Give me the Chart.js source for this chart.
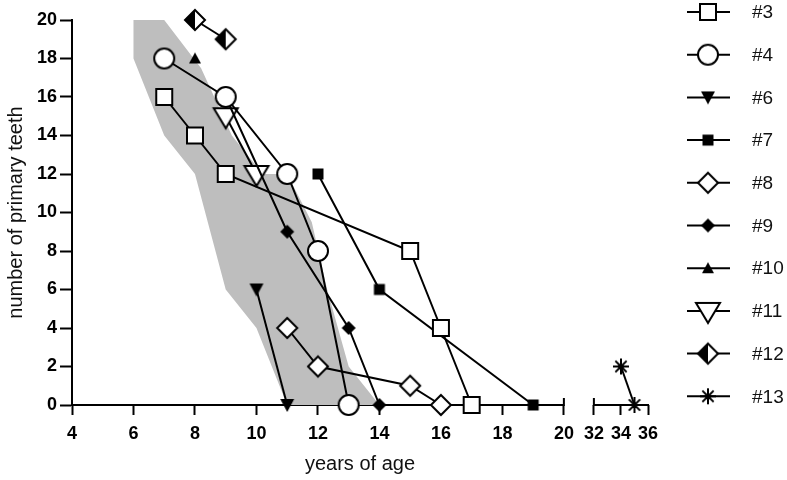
<!DOCTYPE html>
<html lang="en">
<head>
<meta charset="UTF-8">
<title>Primary teeth by age</title>
<script src="https://cdn.jsdelivr.net/npm/chart.js@4.4.0/dist/chart.umd.min.js"></script>
<style>
  html, body { margin: 0; padding: 0; background: #fff; }
  #wrap { width: 787px; height: 480px; }
</style>
</head>
<body>
<div id="wrap"><canvas id="teethChart"></canvas></div>
<script>
// values: age in years / number of primary teeth
const seriesNames = ['#3', '#4', '#6', '#7', '#8', '#9', '#10', '#11', '#12', '#13'];
const ages3 = [7, 8, 9, 15, 16, 17];
const teeth3 = [16, 14, 12, 8, 4, 0];
const ages4 = [7, 9, 11, 12, 13];
const teeth4 = [18, 16, 12, 8, 0];
const ages6 = [10, 11];
const teeth6 = [6, 0];
const ages7 = [12, 14, 19];
const teeth7 = [12, 6, 0];
const ages8 = [11, 12, 15, 16];
const teeth8 = [4, 2, 1, 0];
const ages9 = [9, 11, 13, 14];
const teeth9 = [16, 9, 4, 0];
const ages10 = [8];
const teeth10 = [18];
const ages11 = [9, 10];
const teeth11 = [15, 12];
const ages12 = [8, 9];
const teeth12 = [20, 19];
const ages13 = [34, 35];
const teeth13 = [2, 0];

// grey reference band (outline, left edge down then right edge up)
const bandAges = [6, 6, 7, 8, 9, 10, 11, 14, 13, 12.3, 11.8, 11, 10.2, 9.2, 8.2, 7];
const bandTeeth = [20, 18, 14, 12, 6, 4, 0, 0, 2, 6, 9.5, 12, 12, 14, 17.5, 20];

const xTickLabels = [4, 6, 8, 10, 12, 14, 16, 18, 20, 32, 34, 36];
const yTickLabels = [0, 2, 4, 6, 8, 10, 12, 14, 16, 18, 20];

const allAges = [ages3, ages4, ages6, ages7, ages8, ages9, ages10, ages11, ages12, ages13];
const allTeeth = [teeth3, teeth4, teeth6, teeth7, teeth8, teeth9, teeth10, teeth11, teeth12, teeth13];
const markerKinds = ['square', 'circle', 'triDownFill', 'squareFill', 'diamond', 'diamondFill', 'triFill', 'triDown', 'diamondHalf', 'star'];

// broken x axis: 4..20 at normal scale, then a small gap, then 32..36 compressed
function axisPos(age) {
    if (age <= 20) return age
    return 20 + 0.976 + (age - 32) * 0.44
}

function drawMarker(ctx, kind, cx, cy) {
    ctx.lineWidth = 2
    ctx.strokeStyle = '#000'
    ctx.fillStyle = '#000'
    ctx.beginPath()
    if (kind == 'square') {
        ctx.fillStyle = '#fff'
        ctx.rect(cx - 8, cy - 8, 16, 16)
        ctx.fill(); ctx.stroke()
    } else if (kind == 'circle') {
        ctx.fillStyle = '#fff'
        ctx.arc(cx, cy, 10, 0, Math.PI * 2)
        ctx.fill(); ctx.stroke()
    } else if (kind == 'triDownFill') {
        ctx.moveTo(cx - 7, cy - 6); ctx.lineTo(cx + 7, cy - 6); ctx.lineTo(cx, cy + 7)
        ctx.closePath(); ctx.fill()
    } else if (kind == 'squareFill') {
        ctx.rect(cx - 5.5, cy - 5.5, 11, 11)
        ctx.fill()
    } else if (kind == 'diamond') {
        ctx.fillStyle = '#fff'
        ctx.moveTo(cx, cy - 10); ctx.lineTo(cx + 10, cy); ctx.lineTo(cx, cy + 10); ctx.lineTo(cx - 10, cy)
        ctx.closePath(); ctx.fill(); ctx.stroke()
    } else if (kind == 'diamondFill') {
        ctx.moveTo(cx, cy - 7); ctx.lineTo(cx + 7, cy); ctx.lineTo(cx, cy + 7); ctx.lineTo(cx - 7, cy)
        ctx.closePath(); ctx.fill()
    } else if (kind == 'triFill') {
        ctx.moveTo(cx - 6, cy + 5); ctx.lineTo(cx + 6, cy + 5); ctx.lineTo(cx, cy - 6)
        ctx.closePath(); ctx.fill()
    } else if (kind == 'triDown') {
        ctx.fillStyle = '#fff'
        ctx.moveTo(cx - 12, cy - 8); ctx.lineTo(cx + 12, cy - 8); ctx.lineTo(cx, cy + 12)
        ctx.closePath(); ctx.fill(); ctx.stroke()
    } else if (kind == 'diamondHalf') {
        ctx.fillStyle = '#fff'
        ctx.moveTo(cx, cy - 10); ctx.lineTo(cx + 10, cy); ctx.lineTo(cx, cy + 10); ctx.lineTo(cx - 10, cy)
        ctx.closePath(); ctx.fill()
        ctx.beginPath()
        ctx.fillStyle = '#000'
        ctx.moveTo(cx, cy - 10); ctx.lineTo(cx, cy + 10); ctx.lineTo(cx - 10, cy)
        ctx.closePath(); ctx.fill()
        ctx.beginPath()
        ctx.moveTo(cx, cy - 10); ctx.lineTo(cx + 10, cy); ctx.lineTo(cx, cy + 10); ctx.lineTo(cx - 10, cy)
        ctx.closePath(); ctx.stroke()
    } else if (kind == 'star') {
        for (let k = 0; k < 8; k++) {
            let a = k * Math.PI / 4
            ctx.moveTo(cx, cy)
            ctx.lineTo(cx + Math.cos(a) * 8, cy + Math.sin(a) * 8)
        }
        ctx.stroke()
    }
}

function markerCanvas(kind) {
    let c = document.createElement('canvas')
    c.width = 32
    c.height = 32
    drawMarker(c.getContext('2d'), kind, 16, 16)
    return c
}

const markerImages = markerKinds.map(markerCanvas)

const datasets = seriesNames.map((name, i) => ({
    label: name,
    data: allAges[i].map((a, j) => ({ x: axisPos(a), y: allTeeth[i][j] })),
    showLine: true,
    borderColor: '#000',
    borderWidth: 2,
    tension: 0,
    pointStyle: markerImages[i],
    pointRadius: 6,
    clip: false,
}))

// last dataset is drawn first, so the band sits behind everything
datasets.push({
    label: 'band',
    data: bandAges.map((a, j) => ({ x: a, y: bandTeeth[j] })),
    showLine: true,
    borderWidth: 0,
    borderColor: 'rgba(0,0,0,0)',
    backgroundColor: '#bebebe',
    fill: 'shape',
    pointRadius: 0,
    tension: 0,
})

const brokenAxis = {
    id: 'brokenAxis',
    beforeDatasetsDraw(chart) {
        const ctx = chart.ctx
        const x = chart.scales.x
        const y0 = chart.chartArea.bottom
        const px = v => x.getPixelForValue(axisPos(v))
        ctx.save()
        ctx.strokeStyle = '#000'
        ctx.lineWidth = 2
        ctx.beginPath()
        ctx.moveTo(px(4) - 1, y0); ctx.lineTo(px(20) + 1, y0)
        ctx.moveTo(px(32) - 1, y0); ctx.lineTo(px(36) + 1, y0)
        ctx.moveTo(px(20), y0 - 7); ctx.lineTo(px(20), y0)
        ctx.moveTo(px(32), y0 - 7); ctx.lineTo(px(32), y0)
        ctx.stroke()
        ctx.restore()
    }
}

const sideLegend = {
    id: 'sideLegend',
    afterDraw(chart) {
        const ctx = chart.ctx
        ctx.save()
        ctx.font = '19px Arial, "Liberation Sans", sans-serif'
        ctx.textBaseline = 'middle'
        seriesNames.forEach((name, i) => {
            let y = 12 + i * 42.7
            ctx.strokeStyle = '#000'
            ctx.lineWidth = 2
            ctx.beginPath()
            ctx.moveTo(687, y); ctx.lineTo(730, y)
            ctx.stroke()
            ctx.drawImage(markerImages[i], 708 - 16, y - 16)
            ctx.fillStyle = '#111'
            ctx.fillText(name, 752, y + 1)
        })
        ctx.restore()
    }
}

Chart.defaults.font.family = 'Arial, "Liberation Sans", sans-serif'
Chart.defaults.color = '#000'

new Chart(document.getElementById('teethChart'), {
    type: 'scatter',
    data: { datasets: datasets },
    plugins: [brokenAxis, sideLegend],
    options: {
        responsive: true,
        maintainAspectRatio: false,
        animation: false,
        events: [],
        layout: { padding: { top: 20, right: 139, left: 0, bottom: 0 } },
        plugins: {
            legend: { display: false },
            tooltip: { enabled: false },
        },
        scales: {
            x: {
                type: 'linear',
                min: 4,
                max: axisPos(36),
                border: { display: false },
                grid: { drawOnChartArea: false, tickLength: 10, tickWidth: 2, tickColor: '#000' },
                afterBuildTicks: scale => { scale.ticks = xTickLabels.map(v => ({ value: axisPos(v) })) },
                afterFit: scale => { scale.height = 75 },
                ticks: {
                    autoSkip: false,
                    maxRotation: 0,
                    padding: 8,
                    color: '#000',
                    font: { size: 18, weight: 'bold' },
                    callback: (value, index) => xTickLabels[index],
                },
                title: {
                    display: true,
                    text: 'years of age',
                    color: '#111',
                    font: { size: 20 },
                    padding: { top: 0, bottom: 4 },
                },
            },
            y: {
                min: 0,
                max: 20,
                border: { display: true, color: '#000', width: 2 },
                grid: { drawOnChartArea: false, tickLength: 12, tickWidth: 2, tickColor: '#000' },
                afterBuildTicks: scale => { scale.ticks = yTickLabels.map(v => ({ value: v })) },
                afterFit: scale => { scale.width = 72 },
                ticks: {
                    padding: 3,
                    color: '#000',
                    font: { size: 18, weight: 'bold' },
                },
                title: {
                    display: true,
                    text: 'number of primary teeth',
                    color: '#111',
                    font: { size: 20 },
                    padding: { top: 4, bottom: 0 },
                },
            },
        },
    },
})
</script>
</body>
</html>
